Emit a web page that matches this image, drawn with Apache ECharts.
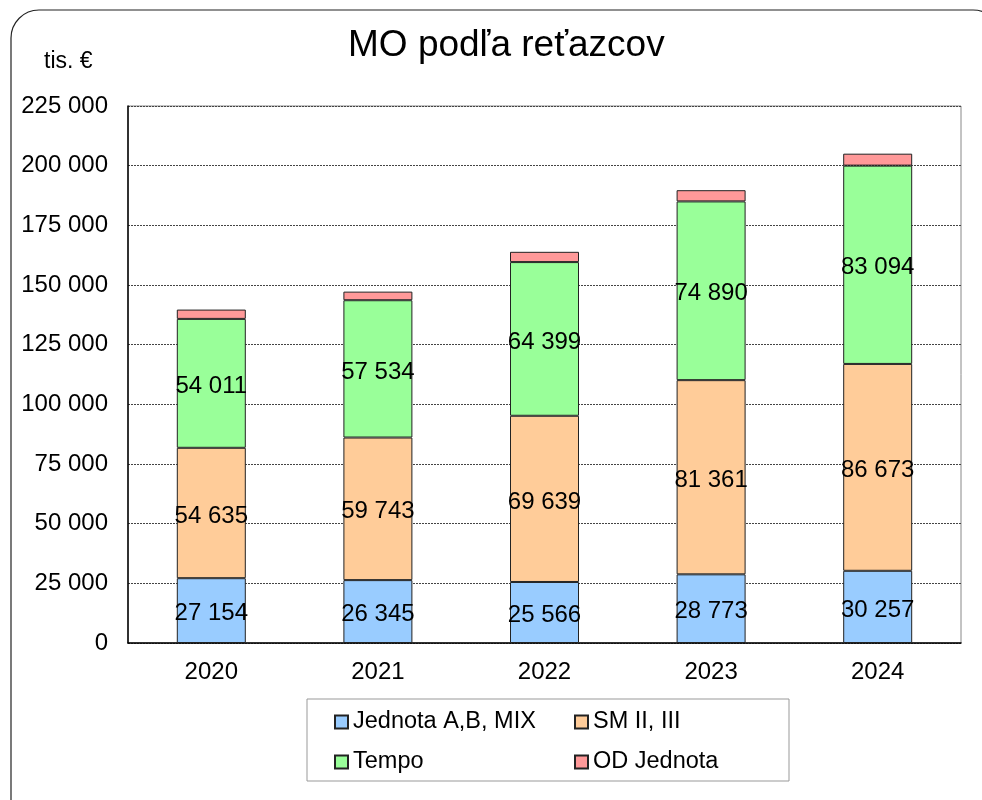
<!DOCTYPE html>
<html>
<head>
<meta charset="utf-8">
<script src="https://cdn.jsdelivr.net/npm/echarts@6/dist/echarts.min.js"></script>
<style>
  html, body { margin: 0; padding: 0; background: #fff; }
  #chart { width: 982px; height: 800px; }
</style>
</head>
<body>
<div id="chart"></div>
<script>
// data
var roky = ['2020', '2021', '2022', '2023', '2024'];
var jednota = [27154, 26345, 25566, 28773, 30257];
var sm = [54635, 59743, 69639, 81361, 86673];
var tempo = [54011, 57534, 64399, 74890, 83094];
var odJednota = [3900, 3600, 4300, 4700, 5000];
var nazvy = ['Jednota A,B, MIX', 'SM II, III', 'Tempo', 'OD Jednota'];
var farby = ['#99CCFF', '#FFCC99', '#99FF99', '#FF9999'];

var font = 'Liberation Sans, Arial, sans-serif';

function medzery(v){
    return String(v).replace(/\B(?=(\d{3})+(?!\d))/g, ' ');
}

function seria(i, data, popisky){
    return {
        name: nazvy[i],
        type: 'bar',
        stack: 'spolu',
        barWidth: 69,
        data: data,
        itemStyle: { color: farby[i], borderColor: '#222', borderWidth: 1 },
        label: {
            show: popisky,
            position: 'inside',
            offset: [0, 3],
            color: '#000',
            fontFamily: font,
            fontSize: 24,
            formatter: function(p){ return medzery(p.value); }
        }
    };
}

function legenda(polozky, x){
    return {
        data: polozky,
        orient: 'vertical',
        left: x, top: 705,
        itemWidth: 13, itemHeight: 13,
        itemGap: 16,
        icon: 'rect',
        textStyle: { fontFamily: font, fontSize: 23.5, color: '#000' }
    };
}

var chart = echarts.init(document.querySelector('#chart'));
chart.setOption({
    animation: false,
    graphic: [{
        type: 'rect',
        shape: { x: 11, y: 10, width: 990, height: 820, r: 28 },
        style: { fill: 'none', stroke: '#222', lineWidth: 1.2 },
        z: -10
    }, {
        type: 'rect',
        shape: { x: 307, y: 699, width: 482, height: 82 },
        style: { fill: 'none', stroke: '#999', lineWidth: 1 }
    }, {
        type: 'text',
        left: 44, top: 50,
        style: { text: 'tis. €', font: '23px ' + font, fill: '#000' }
    }],
    title: {
        text: 'MO podľa reťazcov',
        left: 343, top: 22,
        textStyle: { fontFamily: font, fontSize: 37, fontWeight: 'normal', color: '#000' }
    },
    grid: {
        left: 128, right: 21, top: 106, bottom: 157,
        show: true, borderColor: '#888', borderWidth: 1
    },
    legend: [
        legenda([nazvy[0], nazvy[2]], 329),
        legenda([nazvy[1], nazvy[3]], 569)
    ],
    xAxis: {
        type: 'category',
        data: roky,
        axisLine: { lineStyle: { color: '#000', width: 1.5 } },
        axisTick: { show: false },
        axisLabel: { color: '#000', fontFamily: font, fontSize: 24, margin: 17 }
    },
    yAxis: {
        type: 'value',
        min: 0, max: 225000, interval: 25000,
        axisLine: { show: true, lineStyle: { color: '#000', width: 1.5 } },
        axisTick: { show: false },
        splitLine: { lineStyle: { color: '#444', type: [2, 1], width: 1 } },
        axisLabel: {
            color: '#000', fontFamily: font, fontSize: 24, margin: 20,
            formatter: function(v){ return medzery(v); }
        }
    },
    series: [
        seria(0, jednota, true),
        seria(1, sm, true),
        seria(2, tempo, true),
        seria(3, odJednota, false)
    ]
});
</script>
</body>
</html>
